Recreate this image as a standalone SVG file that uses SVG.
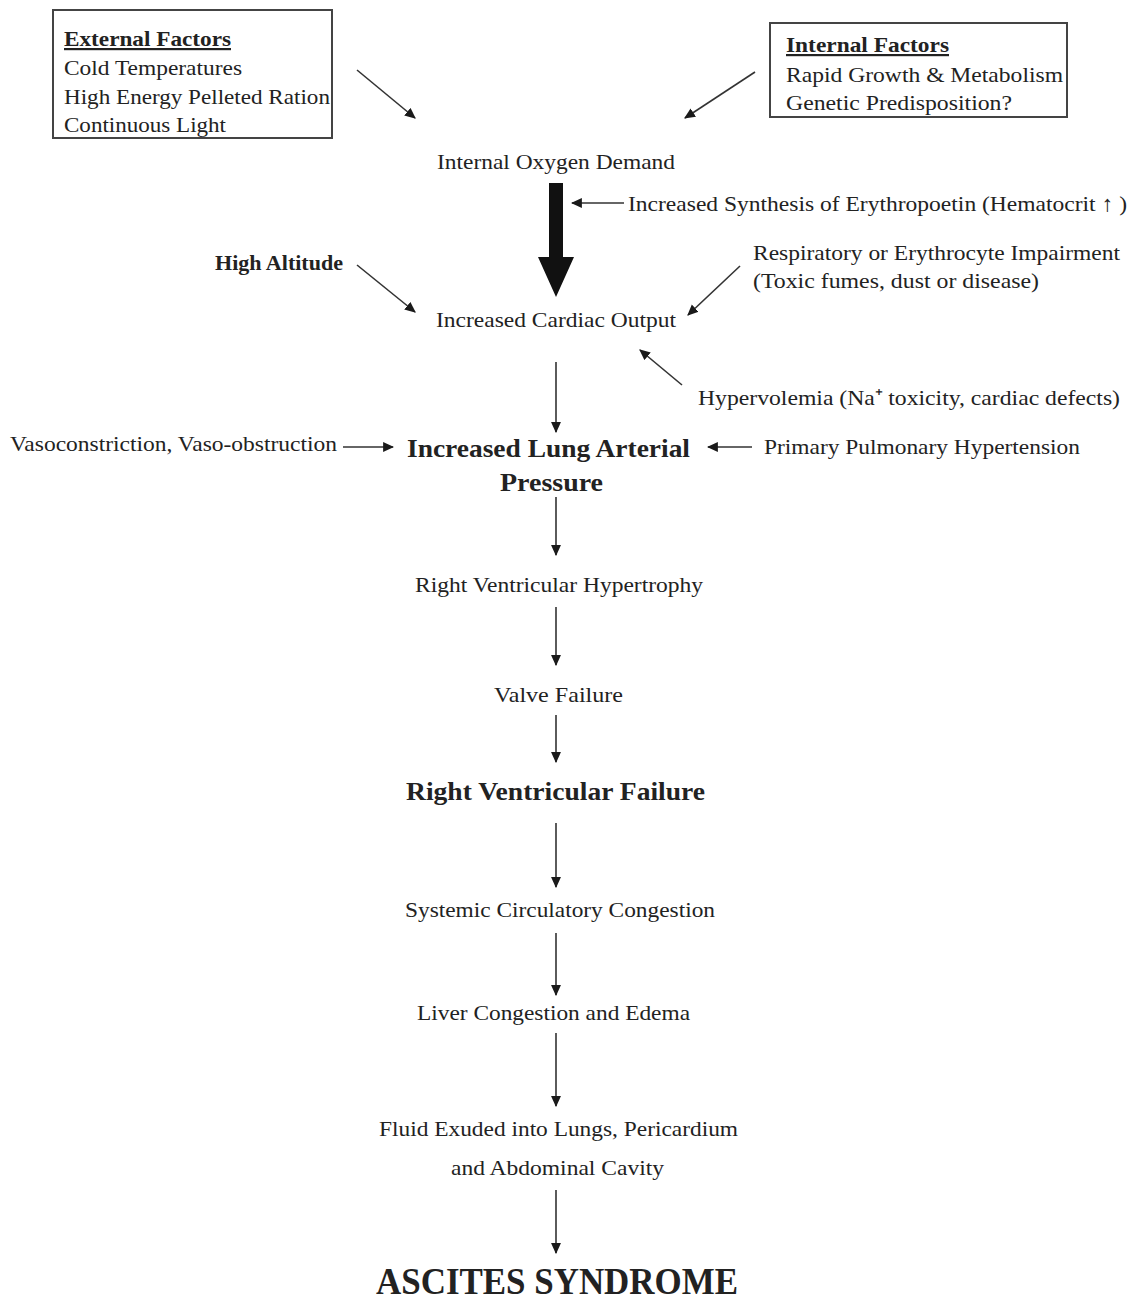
<svg xmlns="http://www.w3.org/2000/svg" width="1133" height="1304" viewBox="0 0 1133 1304">
<defs>
<marker id="ah" viewBox="0 0 10 10" refX="9" refY="5" markerWidth="11" markerHeight="11" markerUnits="userSpaceOnUse" orient="auto">
<path d="M0,0.5 L10,5 L0,9.5 z" fill="#1a1a1a"/>
</marker>
</defs>
<style>
text{font-family:"Liberation Serif","Times New Roman",serif;fill:#222;}
.t{font-size:22px;}
.c{text-anchor:middle;}
.b{font-weight:bold;}
.u{text-decoration:underline;}
.box{fill:#fff;stroke:#444;stroke-width:2;}
.ln{stroke:#333;stroke-width:1.6;fill:none;marker-end:url(#ah);}
</style>
<rect width="1133" height="1304" fill="#fff"/>

<g id="external-factors">
<rect class="box" x="53" y="10" width="279" height="128"/>
<text class="t b u" x="64" y="46" textLength="167" lengthAdjust="spacingAndGlyphs">External Factors</text>
<text class="t" x="64" y="75" textLength="178" lengthAdjust="spacingAndGlyphs">Cold Temperatures</text>
<text class="t" x="64" y="104" textLength="266" lengthAdjust="spacingAndGlyphs">High Energy Pelleted Ration</text>
<text class="t" x="64" y="132" textLength="162" lengthAdjust="spacingAndGlyphs">Continuous Light</text>
</g>

<g id="internal-factors">
<rect class="box" x="770" y="23" width="297" height="94"/>
<text class="t b u" x="786" y="52" textLength="163" lengthAdjust="spacingAndGlyphs">Internal Factors</text>
<text class="t" x="786" y="82" textLength="277" lengthAdjust="spacingAndGlyphs">Rapid Growth &amp; Metabolism</text>
<text class="t" x="786" y="110" textLength="226" lengthAdjust="spacingAndGlyphs">Genetic Predisposition?</text>
</g>

<g id="oxygen-demand"><text class="t" x="437" y="169" textLength="238" lengthAdjust="spacingAndGlyphs">Internal Oxygen Demand</text></g>
<g id="erythropoetin"><text class="t" x="628" y="211" textLength="499" lengthAdjust="spacingAndGlyphs">Increased Synthesis of Erythropoetin (Hematocrit ↑ )</text></g>
<g id="high-altitude"><text class="t b" x="215" y="270" textLength="128" lengthAdjust="spacingAndGlyphs">High Altitude</text></g>
<g id="cardiac-output"><text class="t" x="436" y="327" textLength="240" lengthAdjust="spacingAndGlyphs">Increased Cardiac Output</text></g>
<g id="respiratory">
<text class="t" x="753" y="260" textLength="367" lengthAdjust="spacingAndGlyphs">Respiratory or Erythrocyte Impairment</text>
<text class="t" x="753" y="288" textLength="286" lengthAdjust="spacingAndGlyphs">(Toxic fumes, dust or disease)</text>
</g>
<g id="hypervolemia"><text class="t" x="698" y="405" textLength="422" lengthAdjust="spacingAndGlyphs">Hypervolemia (Na⁺ toxicity, cardiac defects)</text></g>
<g id="vasoconstriction"><text class="t" x="10" y="451" textLength="327" lengthAdjust="spacingAndGlyphs">Vasoconstriction, Vaso-obstruction</text></g>
<g id="lung-pressure">
<text class="b" style="font-size:26px" x="407" y="457" textLength="283" lengthAdjust="spacingAndGlyphs">Increased Lung Arterial</text>
<text class="b" style="font-size:26px" x="500" y="491" textLength="103" lengthAdjust="spacingAndGlyphs">Pressure</text>
</g>
<g id="primary-pulmonary"><text class="t" x="764" y="454" textLength="316" lengthAdjust="spacingAndGlyphs">Primary Pulmonary Hypertension</text></g>
<g id="rv-hypertrophy"><text class="t" x="415" y="592" textLength="288" lengthAdjust="spacingAndGlyphs">Right Ventricular Hypertrophy</text></g>
<g id="valve-failure"><text class="t" x="494" y="702" textLength="129" lengthAdjust="spacingAndGlyphs">Valve Failure</text></g>
<g id="rv-failure"><text class="b" style="font-size:26px" x="406" y="800" textLength="299" lengthAdjust="spacingAndGlyphs">Right Ventricular Failure</text></g>
<g id="systemic"><text class="t" x="405" y="917" textLength="310" lengthAdjust="spacingAndGlyphs">Systemic Circulatory Congestion</text></g>
<g id="liver"><text class="t" x="417" y="1020" textLength="273" lengthAdjust="spacingAndGlyphs">Liver Congestion and Edema</text></g>
<g id="fluid">
<text class="t" x="379" y="1136" textLength="359" lengthAdjust="spacingAndGlyphs">Fluid Exuded into Lungs, Pericardium</text>
<text class="t" x="451" y="1175" textLength="213" lengthAdjust="spacingAndGlyphs">and Abdominal Cavity</text>
</g>
<g id="ascites"><text class="b" style="font-size:37px" x="376" y="1294" textLength="362" lengthAdjust="spacingAndGlyphs">ASCITES SYNDROME</text></g>

<g id="connectors">
<line class="ln" x1="357" y1="70" x2="415" y2="118"/>
<line class="ln" x1="755" y1="72" x2="685" y2="118"/>
<path d="M549,183 H563 V257 H574 L556,297 L538,257 H549 Z" fill="#111"/>
<line class="ln" x1="624" y1="203" x2="572" y2="203"/>
<line class="ln" x1="357" y1="265" x2="415" y2="312"/>
<line class="ln" x1="740" y1="266" x2="688" y2="315"/>
<line class="ln" x1="682" y1="385" x2="640" y2="350"/>
<line class="ln" x1="556" y1="362" x2="556" y2="432"/>
<line class="ln" x1="343" y1="447" x2="393" y2="447"/>
<line class="ln" x1="752" y1="447" x2="708" y2="447"/>
<line class="ln" x1="556" y1="497" x2="556" y2="555"/>
<line class="ln" x1="556" y1="607" x2="556" y2="665"/>
<line class="ln" x1="556" y1="715" x2="556" y2="762"/>
<line class="ln" x1="556" y1="823" x2="556" y2="887"/>
<line class="ln" x1="556" y1="933" x2="556" y2="995"/>
<line class="ln" x1="556" y1="1033" x2="556" y2="1106"/>
<line class="ln" x1="556" y1="1190" x2="556" y2="1253"/>
</g>
</svg>
